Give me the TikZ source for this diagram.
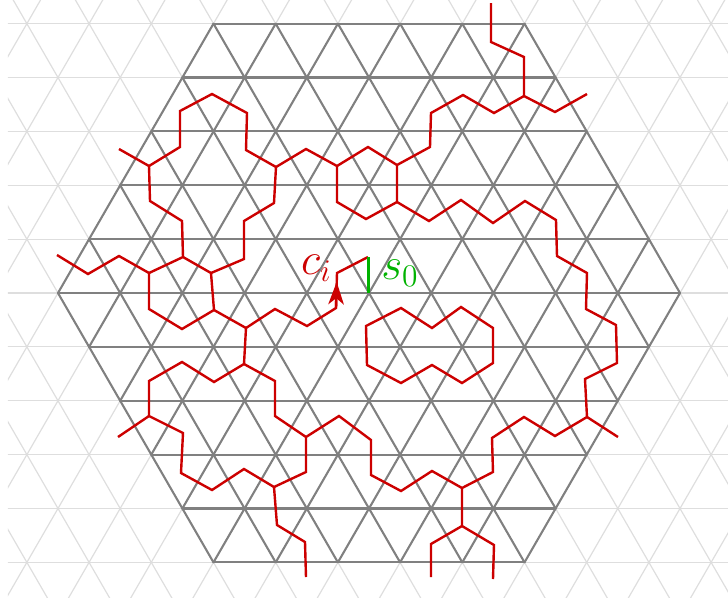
\documentclass[tikz,border=0pt]{standalone}
\usepackage{xcolor}
\usetikzlibrary{arrows.meta}
\definecolor{loopred}{RGB}{204,0,0}
\definecolor{startgreen}{RGB}{0,178,0}

\begin{document}
\begin{tikzpicture}[
    x=0.016077cm, y=-0.016077cm,
    faint/.style={line width=0.55pt, draw=gray!26},
    lattice/.style={line width=0.95pt, draw=gray, line cap=round},
    strand/.style={line width=1.1pt, draw=loopred, line join=miter},
    start/.style={line width=1.1pt, draw=startgreen},
    mark label/.style={font=\huge, inner sep=0pt}
]
\useasboundingbox (0,0) rectangle (728,604);
\begin{scope}
  \clip (8,0) rectangle (728,597);
  \foreach \a in {0,60,120} {
    \begin{scope}[rotate around={\a:(369,293)}]
      \foreach \k in {-9,...,9}
        \draw[faint] (-300,293+\k*53.87) -- (1040,293+\k*53.87);
    \end{scope}
  }
\end{scope}
\foreach \a in {0,60,120} {
  \begin{scope}[rotate around={\a:(369,293)}]
    \foreach \k in {-5,...,5}
      \draw[lattice] ({369-(10-abs(\k))*31.1},293+\k*53.87) -- ({369+(10-abs(\k))*31.1},293+\k*53.87);
  \end{scope}
}
\draw[strand] (119,149) -- (149,166) -- (180,147) -- (180,111) -- (212,94) -- (247,113) -- (246,150) -- (276,167) -- (306,149) -- (337,166) -- (368,147) -- (397,165) -- (430,147) -- (431,113) -- (463,95) -- (494,113) -- (524,96) -- (524,57) -- (491,42) -- (491,3);
\draw[strand] (524,96) -- (555,112) -- (587,94);
\draw[strand] (397,165) -- (397,202) -- (366,219) -- (337,202) -- (337,166);
\draw[strand] (397,202) -- (429,221) -- (461,200) -- (493,223) -- (525,201) -- (556,220) -- (557,256) -- (587,273) -- (586,309) -- (616,325) -- (617,363) -- (585,379) -- (587,417) -- (555,436) -- (524,417) -- (492,438) -- (493,472) -- (462,488) -- (432,471) -- (401,491) -- (371,475) -- (371,440) -- (339,416) -- (306,437) -- (275,416) -- (275,381) -- (244,364) -- (214,382) -- (182,362) -- (149,381) -- (149,416) -- (183,433) -- (181,473) -- (212,490) -- (244,469) -- (274,487) -- (306,472) -- (306,437);
\draw[strand] (587,417) -- (618,437);
\draw[strand] (149,416) -- (118,437);
\draw[strand] (274,487) -- (277,525) -- (305,542) -- (306,577);
\draw[strand] (462,488) -- (462,526) -- (431,544) -- (431,577);
\draw[strand] (462,526) -- (494,545) -- (493,579);
\draw[strand] (244,364) -- (246,328) -- (214,310) -- (182,329) -- (149,309) -- (149,273) -- (183,257) -- (211,273) -- (214,310);
\draw[strand] (149,273) -- (119,256) -- (88,274) -- (57,255);
\draw[strand] (183,257) -- (182,221) -- (150,201) -- (149,166);
\draw[strand] (211,273) -- (244,259) -- (244,221) -- (274,203) -- (276,167);
\draw[strand] (246,328) -- (275,309) -- (307,326) -- (336,308) -- (337,273) -- (368,257);
\draw[strand, -{Stealth[length=3.6mm, width=2.5mm, inset=1mm]}] (336,308) -- (336.7,282);
\draw[strand] (366,326) -- (401,308) -- (432,328) -- (461,307) -- (493,328) -- (493,363) -- (462,383) -- (432,365) -- (401,383) -- (367,365) -- cycle;
\draw[start] (368.5,257) -- (368.5,293);
\node[mark label, text=loopred] (ci) at (316.5,268) {$c_i$};
\node[mark label, text=startgreen] (s0) at (400,273) {$s_0$};
\end{tikzpicture}
\end{document}
